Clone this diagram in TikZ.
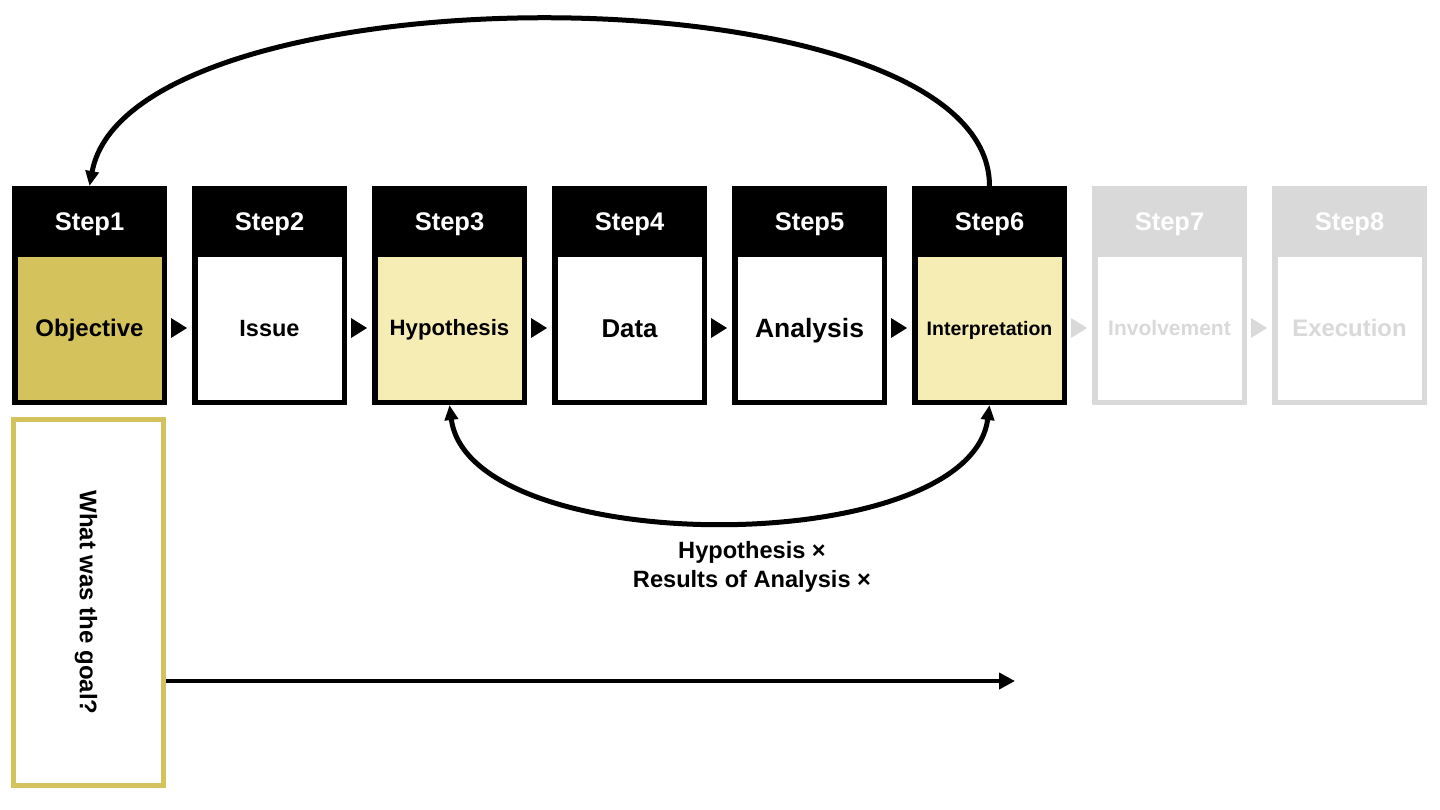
\documentclass[tikz,border=0pt]{standalone}
\usepackage{fontspec}
\setmainfont{Liberation Sans}
\usetikzlibrary{arrows.meta,calc}
\definecolor{gold}{HTML}{D4C25C}
\definecolor{pale}{HTML}{F6EDB4}
\definecolor{lgray}{HTML}{D9D9D9}
\begin{document}
\begin{tikzpicture}[x=1pt,y=-1pt,
  body/.style={draw=black, line width=5.5pt, minimum width=149.5pt, minimum height=148.5pt,
    inner sep=0pt, outer sep=2.75pt, text depth=0pt},
  head/.style={fill=black, minimum width=155pt, minimum height=70pt, inner sep=0pt,
    outer sep=0pt, text=white, text height=18.3pt, text depth=0pt,
    font=\bfseries\fontsize{25.5}{30}\selectfont},
  grayhead/.style={head, fill=lgray},
  graybody/.style={body, draw=lgray, text=lgray},
  conn/.style={line width=5pt, -{Triangle[length=15pt,width=13pt]}},
]
\useasboundingbox (0,0) rectangle (1440,809);
% bodies
\node[body, fill=gold, text height=17.2pt, font=\bfseries\fontsize{24}{28}\selectfont] (s1) at (89.5,328) {Objective};
\node[body, fill=white, text height=16.8pt, font=\bfseries\fontsize{23.5}{28}\selectfont] (s2) at (269.5,328) {Issue};
\node[body, fill=pale, text height=15.9pt, font=\bfseries\fontsize{22.2}{26}\selectfont] (s3) at (449.5,328) {Hypothesis};
\node[body, fill=white, text height=18.5pt, font=\bfseries\fontsize{25.8}{30}\selectfont] (s4) at (629.5,328) {Data};
\node[body, fill=white, text height=19pt, font=\bfseries\fontsize{26.5}{30}\selectfont] (s5) at (809.5,328) {Analysis};
\node[body, fill=pale, text height=14pt, font=\bfseries\fontsize{19.5}{24}\selectfont] (s6) at (989.5,328) {Interpretation};
\node[graybody, fill=white, text height=15pt, font=\bfseries\fontsize{21}{25}\selectfont] (s7) at (1169.5,328) {Involvement};
\node[graybody, fill=white, text height=17.1pt, font=\bfseries\fontsize{23.9}{28}\selectfont] (s8) at (1349.5,328) {Execution};
% headers
\node[head] (h1) at (89.5,221) {Step1};
\node[head] (h2) at (269.5,221) {Step2};
\node[head] (h3) at (449.5,221) {Step3};
\node[head] (h4) at (629.5,221) {Step4};
\node[head] (h5) at (809.5,221) {Step5};
\node[head] (h6) at (989.5,221) {Step6};
\node[grayhead] (h7) at (1169.5,221) {Step7};
\node[grayhead] (h8) at (1349.5,221) {Step8};
% small arrows between steps
\foreach \a/\c in {s1/black,s2/black,s3/black,s4/black,s5/black,s6/lgray,s7/lgray}{
  \fill[\c] ($(\a.east)+(4,-10)$) -- ++(16,10) -- ++(-16,10) -- cycle;
}
% loops
\draw[conn] (h6.north) .. controls +(0,-222) and +(40.5,-222) .. (h1.north);
\draw[conn, {Triangle[length=15pt,width=13pt]}-{Triangle[length=15pt,width=13pt]}]
  (s3.south) .. controls +(20,155) and +(-20,155) .. (s6.south);
\node[align=center, font=\bfseries\fontsize{23.6}{29.5}\selectfont, inner sep=0pt] (lab) at (752,567) {Hypothesis ×\\Results of Analysis ×};
% goal box
\node[draw=gold, line width=5pt, fill=white, minimum width=150pt, minimum height=366pt, inner sep=0pt, outer sep=2.5pt] (g) at (88.5,602.5) {};
\node[rotate=-90, font=\bfseries\fontsize{24}{28}\selectfont, inner sep=0pt, text height=17.2pt, text depth=0pt] (gt) at (88.5,602.5) {What was the goal?};
\coordinate (gend) at (1015,681);
\draw[line width=4.5pt, -{Triangle[length=16pt,width=16pt]}] ([yshift=-78.5pt]g.east) -- (gend);
\end{tikzpicture}
\end{document}
